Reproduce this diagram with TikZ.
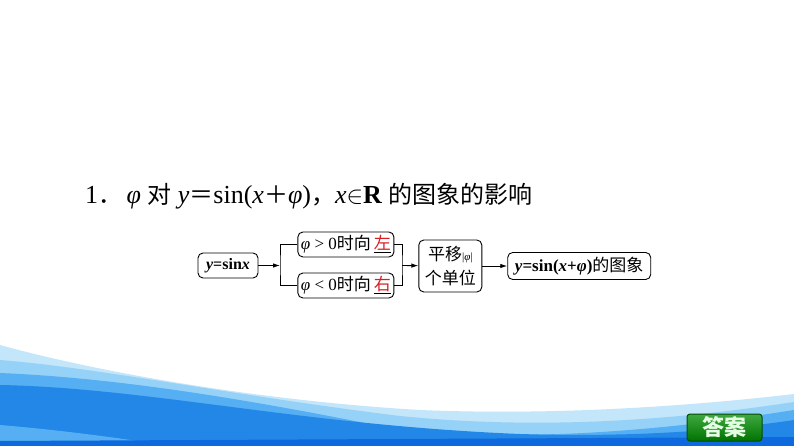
\documentclass[tikz,border=0pt]{standalone}
\usepackage{fontspec}
\setmainfont{Liberation Serif}
\newfontfamily\cjk{Noto Sans CJK SC}
\usetikzlibrary{positioning}
\usetikzlibrary{arrows.meta}
\definecolor{wavepale}{RGB}{196,230,250}
\definecolor{wavelight}{RGB}{150,210,247}
\definecolor{wavemid}{RGB}{85,175,242}
\definecolor{wavedeep}{RGB}{35,135,232}
\definecolor{wavedark}{RGB}{15,105,222}
\definecolor{ansred}{RGB}{215,30,35}
\tikzset{
	box/.style={draw, rounded corners=5pt, line width=0.9pt, inner sep=1pt, minimum height=25pt, font=\fontsize{17}{20}\selectfont},
	cond/.style={box, minimum width=96pt},
	% green button bottom right
	answerbtn/.style={draw=green!30!black, line width=1pt, rounded corners=3pt, top color=green!55!black!75, bottom color=green!45!black, minimum width=75pt, minimum height=27pt, inner sep=0pt, text=green!10!white, font=\cjk\bfseries\fontsize{22}{24}\selectfont},
}

\begin{document}
\begin{tikzpicture}[x=1pt, y=-1pt]
	\fill[white] (0,0) rectangle (794,446);
	\useasboundingbox (0,0) rectangle (794,446);
	
	% waves
	\fill[wavepale] (0,345) .. controls (90,370) and (250,400) .. (420,410) .. controls (560,416) and (700,405) .. (794,394) -- (794,446) -- (0,446) -- cycle;
	\fill[wavelight] (0,360) .. controls (100,368) and (230,395) .. (400,416) .. controls (560,432) and (700,416) .. (794,402) -- (794,446) -- (0,446) -- cycle;
	\fill[wavemid] (0,373) .. controls (120,378) and (250,400) .. (380,426) .. controls (520,446) and (680,428) .. (794,410) -- (794,446) -- (0,446) -- cycle;
	\fill[wavedeep] (0,385) .. controls (150,388) and (300,425) .. (520,434) .. controls (650,438) and (740,428) .. (794,420) -- (794,446) -- (0,446) -- cycle;
	\fill[wavemid] (0,425) .. controls (60,430) and (120,438) .. (170,446) -- (0,446) -- cycle;
	\fill[wavedark] (0,441) -- (794,437) -- (794,446) -- (0,446) -- cycle;
	
	\node (title) [anchor=base west, inner sep=0pt] at (85,204) {\fontsize{26}{30}\selectfont 1{\cjk\fontsize{24}{30}\selectfont ．}\,\textit{φ} {\cjk\fontsize{24}{30}\selectfont 对} \textit{y}{\cjk\fontsize{24}{30}\selectfont ＝}sin(\textit{x}{\cjk\fontsize{24}{30}\selectfont ＋}\textit{φ}){\cjk\fontsize{24}{30}\selectfont ，}\textit{x}$\in$\textbf{R} {\cjk\fontsize{24}{30}\selectfont 的图象的影响}};
	
	\node (b1) [box, minimum width=60pt, font=\bfseries\fontsize{16}{18}\selectfont] at (228,265.5) {\textit{y}=sin\textit{x}};
	\node (up) [cond, right=39pt of b1, yshift=21pt] {\textit{φ} > 0{\cjk 时向}\,\underline{\textcolor{ansred}{\cjk 左}}};
	\node (down) [cond, right=39pt of b1, yshift=-20pt] {\textit{φ} < 0{\cjk 时向}\,\underline{\textcolor{ansred}{\cjk 右}}};
	\node (b3) [box, minimum width=63pt, minimum height=52pt, align=center, font=\cjk\fontsize{17}{24}\selectfont, right=24pt of up, yshift=-21.5pt] {平移{\rmfamily\fontsize{11}{12}\selectfont|\textit{φ}|}\\个单位};
	\node (b4) [box, minimum width=143pt, minimum height=27pt, right=25pt of b3] {\textbf{\textit{y}=sin(\textit{x}+\textit{φ})}{\cjk 的图象}};
	
	\coordinate (split) at (280,265.5);
	\coordinate (merge) at (402,265.5);
	
	\begin{scope}[line width=0.9pt, black, -{Latex[length=7pt, width=4.5pt]}]
		\draw (b1) -- (split);
		\draw (merge) -- (b3);
		\draw (b3) -- (b4);
	\end{scope}
	\begin{scope}[line width=0.9pt, black]
		\draw (up.west) -| (split) |- (down.west);
		\draw (up.east) -| (merge) |- (down.east);
	\end{scope}
	
	\node (answer) [answerbtn] at (724.5,427.5) {答案};
	
\end{tikzpicture}
\end{document}
